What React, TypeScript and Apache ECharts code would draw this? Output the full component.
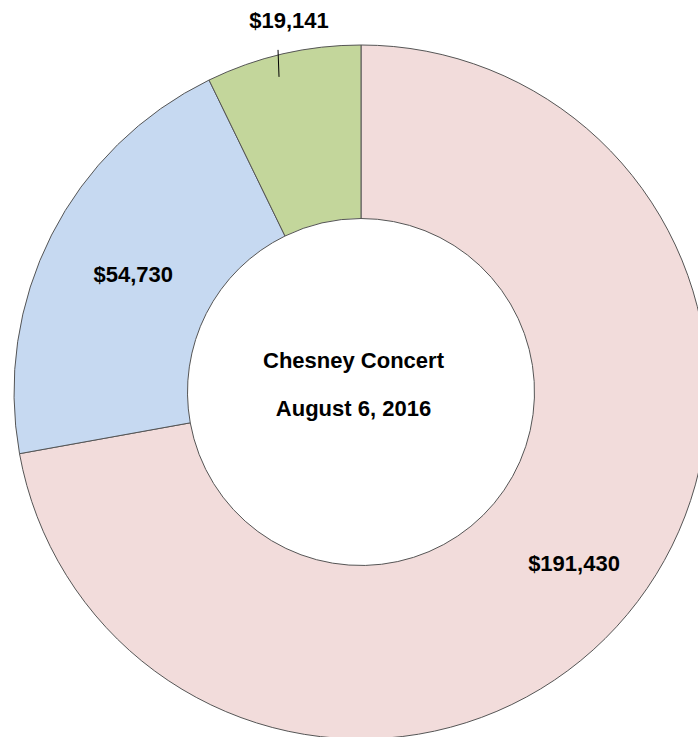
import React, { useEffect, useRef } from 'react';
import * as echarts from 'echarts';

const categories = ['Slice 1', 'Slice 2', 'Slice 3'];
const values = [191430, 54730, 19141];
const colors = ['#F2DCDB', '#C6D9F1', '#C3D69B'];
const centerLines = ['Chesney Concert', 'August 6, 2016'];

const FONT = '"Liberation Sans", Arial, Helvetica, sans-serif';
const CX = 361;
const CY = 392;
const R_IN = 173.5;
const R_OUT = 347;

// point on the ring at the mid angle of slice i (clockwise from 12 o'clock)
function slicePoint(i: number, r: number): [number, number] {
  const total = values.reduce((a, b) => a + b, 0);
  const before = values.slice(0, i).reduce((a, b) => a + b, 0);
  const theta = ((before + values[i] / 2) / total) * Math.PI * 2;
  return [CX + r * Math.sin(theta), CY - r * Math.cos(theta)];
}

export default function App() {
  const ref = useRef<HTMLDivElement>(null);
  useEffect(() => {
    const chart = echarts.init(ref.current!, null, { renderer: 'svg' });
    const fmt = (v: number) => '$' + v.toLocaleString('en-US');
    const [ex, ey] = slicePoint(2, R_OUT);
    chart.setOption({
      animation: false,
      backgroundColor: '#ffffff',
      graphic: [
        ...centerLines.map((t, i) => ({
          type: 'text',
          x: 353.5,
          y: 360 + i * 48,
          silent: true,
          z: 100,
          style: {
            text: t,
            fontFamily: FONT,
            fontWeight: 'bold',
            fontSize: 22,
            fill: '#000',
            align: 'center',
            verticalAlign: 'middle',
            textAlign: 'center',
            textVerticalAlign: 'middle',
          },
        })),
        {
          type: 'line',
          silent: true,
          z: 100,
          shape: { x1: ex - 4, y1: ey + 23, x2: ex - 5, y2: ey - 4 },
          style: { stroke: '#000', lineWidth: 1 },
        },
      ],
      series: [
        {
          type: 'pie',
          center: [CX, CY],
          radius: [R_IN, R_OUT],
          startAngle: 90,
          clockwise: true,
          avoidLabelOverlap: false,
          silent: true,
          itemStyle: { borderColor: '#555555', borderWidth: 1 },
          label: {
            show: true,
            position: 'inside',
            formatter: (p: any) => fmt(p.value),
            fontFamily: FONT,
            fontWeight: 'bold',
            fontSize: 22,
            color: '#000',
          },
          labelLine: { show: false },
          labelLayout: (params: any) => {
            if (params.dataIndex === 0) return { dx: 11, dy: 3 };
            if (params.dataIndex === 1) return { dx: 7, dy: 2 };
            return {
              x: ex + 6,
              y: ey - 33,
              align: 'center',
              verticalAlign: 'middle',
            };
          },
          data: categories.map((name, i) => ({
            name,
            value: values[i],
            itemStyle: { color: colors[i] },
            ...(i === 2 ? { label: { position: 'outside' } } : {}),
          })),
        },
      ],
    });
    return () => chart.dispose();
  }, []);
  return (
    <div
      ref={ref}
      style={{ position: 'absolute', left: 0, top: 0, width: 698, height: 737 }}
    />
  );
}
